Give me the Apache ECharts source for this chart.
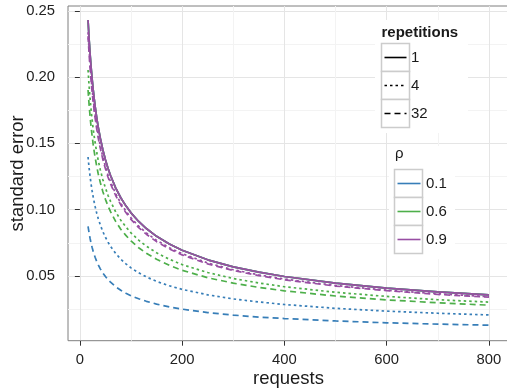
<!DOCTYPE html>
<html><head><meta charset="utf-8">
<script src="https://cdn.jsdelivr.net/npm/echarts@6/dist/echarts.min.js"></script>
<style>html,body{margin:0;padding:0;background:#fff}#c{width:507px;height:389px}</style>
</head><body><div id="c"></div>
<script>
// x values (requests)
const requests = [16,18,20,22,24,26,28,30,33,36,40,45,50,55,60,70,80,90,100,115,130,150,175,200,250,300,350,400,500,600,700,800];
// repetitions = 1 (identical for every rho; the three curves overlap)
const seRep1 = [0.2430,0.2291,0.2174,0.2073,0.1985,0.1907,0.1838,0.1776,0.1693,0.1621,0.1539,0.1451,0.1377,0.1313,0.1258,0.1165,0.1090,0.1029,0.0976,0.0911,0.0858,0.0799,0.0741,0.0694,0.0622,0.0569,0.0529,0.0496,0.0446,0.0409,0.0380,0.0358];
const seRho09Rep4 = [0.2338,0.2204,0.2091,0.1994,0.1910,0.1835,0.1768,0.1709,0.1629,0.1559,0.1481,0.1396,0.1325,0.1263,0.1210,0.1121,0.1049,0.0990,0.0939,0.0876,0.0825,0.0769,0.0713,0.0668,0.0598,0.0547,0.0509,0.0477,0.0429,0.0393,0.0366,0.0344];
const seRho09Rep32 = [0.2309,0.2176,0.2065,0.1969,0.1886,0.1812,0.1746,0.1687,0.1608,0.1540,0.1462,0.1378,0.1308,0.1247,0.1195,0.1107,0.1036,0.0978,0.0927,0.0865,0.0815,0.0759,0.0704,0.0659,0.0591,0.0541,0.0503,0.0471,0.0424,0.0389,0.0361,0.0340];
const seRho06Rep4 = [0.2053,0.1936,0.1837,0.1752,0.1677,0.1611,0.1553,0.1501,0.1431,0.1370,0.1300,0.1226,0.1164,0.1109,0.1063,0.0984,0.0921,0.0870,0.0825,0.0770,0.0725,0.0675,0.0626,0.0586,0.0526,0.0481,0.0447,0.0419,0.0377,0.0346,0.0321,0.0303];
const seRho06Rep32 = [0.1903,0.1794,0.1702,0.1623,0.1554,0.1493,0.1439,0.1391,0.1326,0.1269,0.1205,0.1136,0.1078,0.1028,0.0985,0.0912,0.0853,0.0806,0.0764,0.0713,0.0672,0.0626,0.0580,0.0543,0.0487,0.0446,0.0414,0.0388,0.0349,0.0320,0.0298,0.0280];
const seRho01Rep4 = [0.1397,0.1317,0.1250,0.1192,0.1141,0.1097,0.1057,0.1021,0.0973,0.0932,0.0885,0.0834,0.0792,0.0755,0.0723,0.0670,0.0627,0.0592,0.0561,0.0524,0.0493,0.0459,0.0426,0.0399,0.0358,0.0327,0.0304,0.0285,0.0256,0.0235,0.0219,0.0206];
const seRho01Rep32 = [0.0875,0.0825,0.0783,0.0746,0.0715,0.0687,0.0662,0.0639,0.0609,0.0584,0.0554,0.0522,0.0496,0.0473,0.0453,0.0419,0.0392,0.0370,0.0351,0.0328,0.0309,0.0288,0.0267,0.0250,0.0224,0.0205,0.0190,0.0179,0.0161,0.0147,0.0137,0.0129];

const rhoLabels = ['0.1','0.6','0.9'];
const repLabels = ['1','4','32'];
const xTicks = [0,200,400,600,800];
const xMinorTicks = [100,300,500,700];
const yTicks = [0.05,0.10,0.15,0.20,0.25];
const yMinorTicks = [0.025,0.075,0.125,0.175,0.225];

const colors = {'0.1':'#377EB8','0.6':'#4DAF4A','0.9':'#984EA3'};
const dashes = {'1':'solid','4':[2.5,3],'32':[6,4]};
const values = {
  '0.1':{'1':seRep1,'4':seRho01Rep4,'32':seRho01Rep32},
  '0.6':{'1':seRep1,'4':seRho06Rep4,'32':seRho06Rep32},
  '0.9':{'1':seRep1,'4':seRho09Rep4,'32':seRho09Rep32}
};
const FONT = '"Liberation Sans", Arial, sans-serif';
const TXT = '#1a1a1a';

const series = [];
rhoLabels.forEach(rho => {
  repLabels.forEach(rep => {
    series.push({
      name: 'rho ' + rho + ', rep ' + rep,
      type: 'line', showSymbol: false, symbol: 'none',
      xAxisIndex: 0, yAxisIndex: 0,
      lineStyle: {color: colors[rho], width: 1.7, type: dashes[rep]},
      data: requests.map((x, i) => [x, values[rho][rep][i]]),
      z: 3
    });
  });
});

const g = [];
// legend 1: repetitions
g.push({type:'rect', shape:{x:375,y:20,width:93,height:113}, style:{fill:'#fff'}, z:10});
g.push({type:'text', x:381.5, y:32.5, style:{text:'repetitions', font:'bold 15px '+FONT, fill:TXT, textVerticalAlign:'middle'}, z:11});
repLabels.forEach((rep, i) => {
  const y0 = 43.5 + 28*i;
  g.push({type:'rect', shape:{x:381.5,y:y0,width:28,height:28}, style:{fill:'#fff', stroke:'#cccccc', lineWidth:1.5}, z:11});
  g.push({type:'line', shape:{x1:384.5,y1:y0+14,x2:406.5,y2:y0+14}, style:{stroke:'#000', lineWidth:1.6, lineDash: rep==='1'?null:dashes[rep]}, z:12});
  g.push({type:'text', x:411, y:y0+14.5, style:{text:rep, font:'15px '+FONT, fill:TXT, textVerticalAlign:'middle'}, z:12});
});
// legend 2: rho
g.push({type:'rect', shape:{x:389,y:146,width:66,height:113}, style:{fill:'#fff'}, z:10});
g.push({type:'text', x:395, y:154, style:{text:'ρ', font:'15px '+FONT, fill:TXT, textVerticalAlign:'middle'}, z:11});
rhoLabels.forEach((rho, i) => {
  const y0 = 169.5 + 28*i;
  g.push({type:'rect', shape:{x:394.5,y:y0,width:28,height:28}, style:{fill:'#fff', stroke:'#cccccc', lineWidth:1.5}, z:11});
  g.push({type:'line', shape:{x1:397.5,y1:y0+14,x2:420.5,y2:y0+14}, style:{stroke:colors[rho], lineWidth:1.6}, z:12});
  g.push({type:'text', x:426, y:y0+14.5, style:{text:rho, font:'15px '+FONT, fill:TXT, textVerticalAlign:'middle'}, z:12});
});

const chart = echarts.init(document.getElementById('c'), null, {renderer:'canvas'});
chart.setOption({
  backgroundColor: '#fff',
  animation: false,
  textStyle: {fontFamily: FONT},
  grid: {left:68, top:6, right:-2, bottom:48.3, show:true, borderColor:'#7f7f7f', borderWidth:1, backgroundColor:'#fff', containLabel:false, outerBoundsMode:'none'},
  xAxis: [{
    type:'value', min:-23.2, max:839.2,
    name:'requests', nameLocation:'middle', nameGap:29, nameMoveOverlap:false,
    nameTextStyle:{fontSize:18.5, color:TXT, fontFamily:FONT},
    axisLine:{show:false},
    axisTick:{show:true, length:5, lineStyle:{color:'#333'}, customValues:xTicks},
    axisLabel:{show:true, margin:11.5, fontSize:14.8, color:'#222', fontFamily:FONT, customValues:xTicks},
    splitLine:{show:true, lineStyle:{color:'#e5e5e5', width:1}}
  },{
    type:'value', min:-23.2, max:839.2, position:'bottom',
    axisLine:{show:false}, axisLabel:{show:false},
    axisTick:{show:false, customValues:xMinorTicks},
    splitLine:{show:true, lineStyle:{color:'#f3f3f3', width:1}}
  }],
  yAxis: [{
    type:'value', min:0.0012, max:0.2536,
    name:'standard error', nameLocation:'middle', nameGap:41, nameMoveOverlap:false,
    nameTextStyle:{fontSize:18.5, color:TXT, fontFamily:FONT},
    axisLine:{show:false},
    axisTick:{show:true, length:5, lineStyle:{color:'#333'}, customValues:yTicks},
    axisLabel:{show:true, margin:13, fontSize:14.8, color:'#222', fontFamily:FONT, customValues:yTicks, formatter: v => v.toFixed(2)},
    splitLine:{show:true, lineStyle:{color:'#e5e5e5', width:1}}
  },{
    type:'value', min:0.0012, max:0.2536, position:'left',
    axisLine:{show:false}, axisLabel:{show:false},
    axisTick:{show:false, customValues:yMinorTicks},
    splitLine:{show:true, lineStyle:{color:'#f3f3f3', width:1}}
  }],
  series: series,
  graphic: g
});
</script></body></html>
